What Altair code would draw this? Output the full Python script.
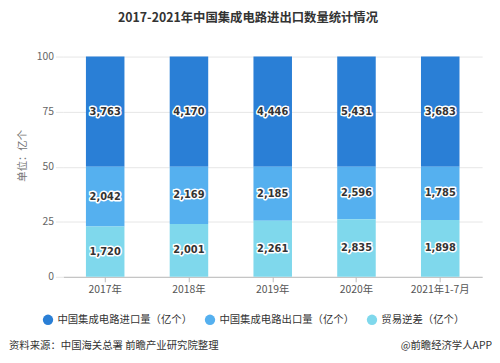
import altair as alt
import pandas as pd

years = ["2017年", "2018年", "2019年", "2020年", "2021年1-7月"]
series = ["中国集成电路进口量（亿个）", "中国集成电路出口量（亿个）", "贸易逆差（亿个）"]
imports = [3763, 4170, 4446, 5431, 3683]
exports = [2042, 2169, 2185, 2596, 1785]
deficit = [1720, 2001, 2261, 2835, 1898]
colors = ["#2a7fd6", "#55b0ef", "#7fd8ec"]

rows = []
for i, y in enumerate(years):
    for k, (s, vals) in enumerate(zip(series, [imports, exports, deficit])):
        rows.append({"year": y, "series": s, "value": vals[i], "order": 2 - k})
df = pd.DataFrame(rows)

x = alt.X("year:N", sort=years, title=None,
          scale=alt.Scale(paddingInner=0.54, paddingOuter=0.27),
          axis=alt.Axis(labelAngle=0, labelColor="#555", labelFontSize=10.5,
                        labelFont="Noto Sans CJK SC", domainColor="#bbb",
                        tickColor="#bbb", tickSize=5, labelPadding=3, grid=False))

y_enc = alt.Y("value:Q", stack="normalize", title="单位：亿个",
              scale=alt.Scale(domain=[0, 1]),
              axis=alt.Axis(values=[0, 0.25, 0.5, 0.75, 1.0],
                            labelExpr="format(datum.value*100, 'd')",
                            labelColor="#666", labelFontSize=10.5,
                            labelFont="Noto Sans CJK SC",
                            gridColor="#e6e6e6", domain=False,
                            tickColor="#e6e6e6", tickSize=8, labelPadding=2,
                            titleColor="#777", titleFontSize=10.5,
                            titleFontWeight="normal", titleFont="Noto Sans CJK SC",
                            titleX=-41, titleY=100, titleAlign="center",
                            titleBaseline="middle", titleAngle=-90))

color = alt.Color("series:N", sort=series,
                  scale=alt.Scale(domain=series, range=colors),
                  legend=alt.Legend(title=None, orient="none", direction="horizontal",
                                    legendX=-21, legendY=261, symbolType="circle",
                                    symbolSize=110, symbolStrokeWidth=0,
                                    labelFontSize=10.5, labelColor="#333",
                                    labelFont="Noto Sans CJK SC",
                                    columnPadding=12, labelLimit=300))

order = alt.Order("order:Q", sort="ascending")

bars = alt.Chart(df).mark_bar(size=39).encode(x=x, y=y_enc, color=color, order=order)

text_base = alt.Chart(df).transform_stack(
    stack="value", groupby=["year"], as_=["v0", "v1"], offset="normalize",
    sort=[alt.SortField("order", order="ascending")]
).transform_calculate(
    mid="(datum.v0 + datum.v1) / 2",
    label="format(datum.value, ',')"
)

halo = text_base.mark_text(fontSize=10, fontWeight="bold", font="DejaVu Sans",
                           stroke="white", strokeWidth=3, fill="white",
                           strokeJoin="round").encode(
    x=alt.X("year:N", sort=years), y=alt.Y("mid:Q"), text="label:N")
txt = text_base.mark_text(fontSize=10, fontWeight="bold", font="DejaVu Sans",
                          fill="#333").encode(
    x=alt.X("year:N", sort=years), y=alt.Y("mid:Q"), text="label:N")

footer_left = alt.Chart(pd.DataFrame({"t": ["资料来源：中国海关总署 前瞻产业研究院整理"]})).mark_text(
    align="left", baseline="middle", fontSize=10.5, color="#333",
    font="Noto Sans CJK SC").encode(x=alt.value(-55), y=alt.value(293), text="t:N")
footer_right = alt.Chart(pd.DataFrame({"t": ["@前瞻经济学人APP"]})).mark_text(
    align="right", baseline="middle", fontSize=10.5, color="#333",
    font="Noto Sans CJK SC").encode(x=alt.value(434), y=alt.value(293), text="t:N")

chart = alt.layer(bars, halo, txt, footer_left, footer_right).properties(
    width=424, height=223,
    title=alt.TitleParams("2017-2021年中国集成电路进出口数量统计情况",
                          fontSize=12.5, fontWeight="bold", color="#333",
                          font="Noto Sans CJK SC", anchor="middle", dx=-25,
                          offset=27),
    autosize=alt.AutoSizeParams(type="none"),
    padding={"left": 56, "top": 47, "right": 10, "bottom": 80},
).configure_view(stroke=None).configure_axis(labelFontWeight="normal")

chart.save("out.html", embed_options={"renderer": "svg", "actions": False})
